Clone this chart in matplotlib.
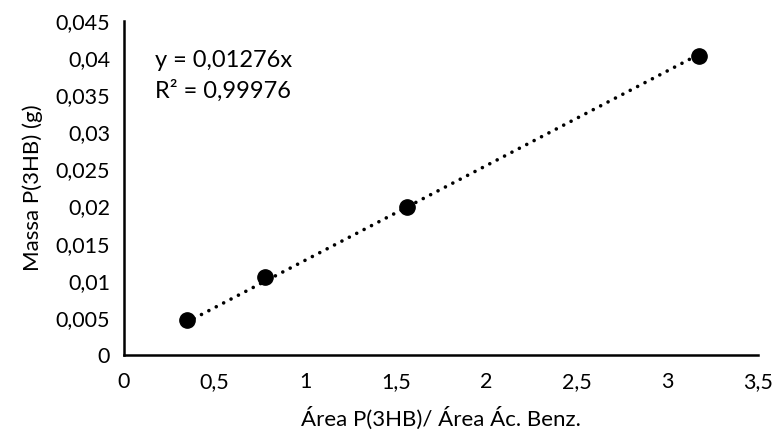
import matplotlib
matplotlib.use("Agg")
import matplotlib.pyplot as plt
import numpy as np
from matplotlib.ticker import FuncFormatter

area_ratio = [0.346, 0.779, 1.564, 3.177]
massa = [0.00472, 0.01047, 0.0199, 0.0403]
slope = 0.01276
eq_text = "y = 0,01276x"
r2_text = "R² = 0,99976"
x_ticks = [0, 0.5, 1, 1.5, 2, 2.5, 3, 3.5]
y_ticks = [0, 0.005, 0.01, 0.015, 0.02, 0.025, 0.03, 0.035, 0.04, 0.045]
xlabel = "Área P(3HB)/ Área Ác. Benz."
ylabel = "Massa P(3HB) (g)"

plt.rcParams['font.family'] = ['Lato', 'DejaVu Sans']

fig = plt.figure(figsize=(7.77, 4.41), dpi=100)
ax = fig.add_axes([124/777, 1-355/441, (758-124)/777, (355-21)/441])

xs = np.array([min(area_ratio), max(area_ratio)])
ax.plot(xs, slope*xs, color='black', lw=2.6, linestyle=(0, (0.01, 2.3)),
        dash_capstyle='round', zorder=2)
ax.plot(area_ratio, massa, 'o', color='black', markersize=11, zorder=3)

ax.set_xlim(0, 3.5)
ax.set_ylim(0, 0.045)
ax.set_xticks(x_ticks)
ax.set_yticks(y_ticks)

def fmt(v, pos):
    s = ('%.3f' % v).rstrip('0').rstrip('.')
    return s.replace('.', ',')

ax.xaxis.set_major_formatter(FuncFormatter(fmt))
ax.yaxis.set_major_formatter(FuncFormatter(fmt))
ax.tick_params(length=0, labelsize=15.5)
ax.tick_params(axis='x', pad=12)
ax.tick_params(axis='y', pad=10)

for s in ['top', 'right']:
    ax.spines[s].set_visible(False)
for s in ['left', 'bottom']:
    ax.spines[s].set_linewidth(1.8)
    ax.spines[s].set_color('black')

ax.set_xlabel(xlabel, fontsize=16, labelpad=11)
ax.set_ylabel(ylabel, fontsize=16, labelpad=9)

ax.text(155/777, 1-67/441, eq_text, transform=fig.transFigure, fontsize=17,
        va='baseline', ha='left')
ax.text(155/777, 1-98/441, r2_text, transform=fig.transFigure, fontsize=17,
        va='baseline', ha='left')

fig.savefig("out.png", dpi=100)
